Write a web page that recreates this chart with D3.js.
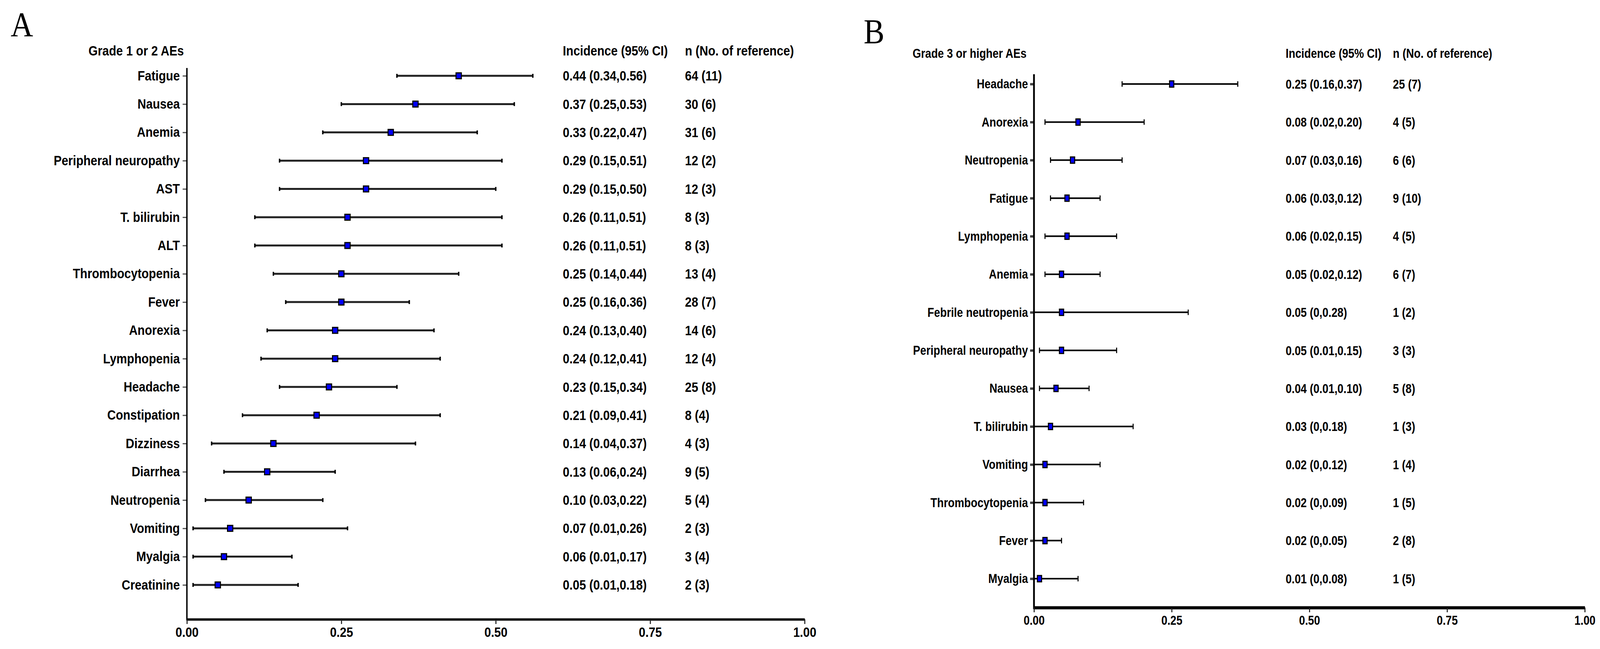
<!DOCTYPE html>
<html>
<head>
<meta charset="utf-8">
<script src="https://cdn.jsdelivr.net/npm/d3@7"></script>
<style>
html,body{margin:0;padding:0;background:#fff;overflow:hidden;width:100%;height:100%;}
svg{display:block;width:100vw;height:100vh;}
</style>
</head>
<body>
<svg id="chart" viewBox="0 0 4520 1661" preserveAspectRatio="none"></svg>
<script>
// ---------- Panel A data: Grade 1 or 2 AEs ----------
const catsA = ["Fatigue","Nausea","Anemia","Peripheral neuropathy","AST","T. bilirubin","ALT","Thrombocytopenia","Fever","Anorexia","Lymphopenia","Headache","Constipation","Dizziness","Diarrhea","Neutropenia","Vomiting","Myalgia","Creatinine"];
const estA = [0.44,0.37,0.33,0.29,0.29,0.26,0.26,0.25,0.25,0.24,0.24,0.23,0.21,0.14,0.13,0.10,0.07,0.06,0.05];
const loA  = [0.34,0.25,0.22,0.15,0.15,0.11,0.11,0.14,0.16,0.13,0.12,0.15,0.09,0.04,0.06,0.03,0.01,0.01,0.01];
const hiA  = [0.56,0.53,0.47,0.51,0.50,0.51,0.51,0.44,0.36,0.40,0.41,0.34,0.41,0.37,0.24,0.22,0.26,0.17,0.18];
const ciTextA = ["0.44 (0.34,0.56)","0.37 (0.25,0.53)","0.33 (0.22,0.47)","0.29 (0.15,0.51)","0.29 (0.15,0.50)","0.26 (0.11,0.51)","0.26 (0.11,0.51)","0.25 (0.14,0.44)","0.25 (0.16,0.36)","0.24 (0.13,0.40)","0.24 (0.12,0.41)","0.23 (0.15,0.34)","0.21 (0.09,0.41)","0.14 (0.04,0.37)","0.13 (0.06,0.24)","0.10 (0.03,0.22)","0.07 (0.01,0.26)","0.06 (0.01,0.17)","0.05 (0.01,0.18)"];
const nTextA = ["64 (11)","30 (6)","31 (6)","12 (2)","12 (3)","8 (3)","8 (3)","13 (4)","28 (7)","14 (6)","12 (4)","25 (8)","8 (4)","4 (3)","9 (5)","5 (4)","2 (3)","3 (4)","2 (3)"];

// ---------- Panel B data: Grade 3 or higher AEs ----------
const catsB = ["Headache","Anorexia","Neutropenia","Fatigue","Lymphopenia","Anemia","Febrile neutropenia","Peripheral neuropathy","Nausea","T. bilirubin","Vomiting","Thrombocytopenia","Fever","Myalgia"];
const estB = [0.25,0.08,0.07,0.06,0.06,0.05,0.05,0.05,0.04,0.03,0.02,0.02,0.02,0.01];
const loB  = [0.16,0.02,0.03,0.03,0.02,0.02,0.00,0.01,0.01,0.00,0.00,0.00,0.00,0.00];
const hiB  = [0.37,0.20,0.16,0.12,0.15,0.12,0.28,0.15,0.10,0.18,0.12,0.09,0.05,0.08];
const ciTextB = ["0.25 (0.16,0.37)","0.08 (0.02,0.20)","0.07 (0.03,0.16)","0.06 (0.03,0.12)","0.06 (0.02,0.15)","0.05 (0.02,0.12)","0.05 (0,0.28)","0.05 (0.01,0.15)","0.04 (0.01,0.10)","0.03 (0,0.18)","0.02 (0,0.12)","0.02 (0,0.09)","0.02 (0,0.05)","0.01 (0,0.08)"];
const nTextB = ["25 (7)","4 (5)","6 (6)","9 (10)","4 (5)","6 (7)","1 (2)","3 (3)","5 (8)","1 (3)","1 (4)","1 (5)","2 (8)","1 (5)"];

const xTicks = [0, 0.25, 0.5, 0.75, 1];
const headers = {A:["Grade 1 or 2 AEs","Incidence (95% CI)","n (No. of reference)"],
                 B:["Grade 3 or higher AEs","Incidence (95% CI)","n (No. of reference)"]};

const svg = d3.select("#chart");
const FONT = "'Liberation Sans', Arial, Helvetica, sans-serif";

function squeeze(sel, k){
  sel.each(function(){
    const len = this.getComputedTextLength();
    d3.select(this).attr("textLength", len*k).attr("lengthAdjust","spacingAndGlyphs");
  });
}

function panel(cfg){
  const rows = cfg.cats.map((c,i)=>({cat:c, est:cfg.est[i], lo:cfg.lo[i], hi:cfg.hi[i], ci:cfg.ci[i], n:cfg.n[i]}));
  const x = d3.scaleLinear().domain([0,1]).range([cfg.x0, cfg.x1]);
  const y = d3.scalePoint().domain(cfg.cats).range([cfg.yTop, cfg.yBot]);
  const g = svg.append("g");

  // y axis (labels + ticks)
  const ya = g.append("g").attr("transform",`translate(${cfg.x0},0)`)
    .call(d3.axisLeft(y).tickSize(cfg.yTickLen).tickPadding(cfg.yTickPad));
  ya.select(".domain").remove();
  ya.selectAll(".tick line").attr("stroke", cfg.yTickColor).attr("stroke-width", cfg.yTickW);
  ya.selectAll(".tick text").attr("font-family",FONT).attr("font-weight","bold")
    .attr("font-size",cfg.fs).attr("fill","#000");
  squeeze(ya.selectAll(".tick text"), cfg.sq);

  // vertical axis line
  g.append("line").attr("x1",cfg.x0).attr("x2",cfg.x0).attr("y1",cfg.axTop).attr("y2",cfg.axBot+cfg.xDomW/2)
    .attr("stroke","#000").attr("stroke-width",cfg.yDomW);

  // x axis
  const xa = g.append("g").attr("transform",`translate(0,${cfg.axBot})`)
    .call(d3.axisBottom(x).tickValues(xTicks).tickFormat(d3.format(".2f")).tickSize(cfg.xTickLen).tickSizeOuter(0).tickPadding(cfg.xTickPad));
  xa.select(".domain").attr("stroke","#000").attr("stroke-width",cfg.xDomW);
  xa.selectAll(".tick line").attr("stroke","#222").attr("stroke-width",cfg.xTickW);
  xa.selectAll(".tick text").attr("font-family",FONT).attr("font-weight","bold")
    .attr("font-size",cfg.fs).attr("fill","#000");
  squeeze(xa.selectAll(".tick text"), cfg.sq);

  // CI lines
  const eg = g.append("g");
  eg.selectAll("line.ci").data(rows).join("line").attr("class","ci")
    .attr("x1",d=>x(d.lo)).attr("x2",d=>x(d.hi)).attr("y1",d=>y(d.cat)).attr("y2",d=>y(d.cat))
    .attr("stroke",cfg.lineColor).attr("stroke-width",cfg.lineW);
  // caps
  const caps = rows.flatMap(d=>[{cat:d.cat,v:d.lo},{cat:d.cat,v:d.hi}]);
  eg.selectAll("line.cap").data(caps).join("line").attr("class","cap")
    .attr("x1",d=>x(d.v)).attr("x2",d=>x(d.v))
    .attr("y1",d=>y(d.cat)-cfg.capH/2).attr("y2",d=>y(d.cat)+cfg.capH/2)
    .attr("stroke","#000").attr("stroke-width",cfg.capW);
  // markers
  eg.selectAll("rect.pt").data(rows).join("rect").attr("class","pt")
    .attr("x",d=>x(d.est)-cfg.mW/2).attr("y",d=>y(d.cat)-cfg.mH/2)
    .attr("width",cfg.mW).attr("height",cfg.mH)
    .attr("fill","#0000ff").attr("stroke","#000").attr("stroke-width",cfg.mSW);

  // text columns
  const tg = g.append("g").attr("font-family",FONT).attr("font-weight","bold").attr("font-size",cfg.fs).attr("fill","#000");
  const ciT = tg.selectAll("text.ci").data(rows).join("text").attr("class","ci")
    .attr("x",cfg.colCI).attr("y",d=>y(d.cat)).attr("dy","0.35em").text(d=>d.ci);
  const nT = tg.selectAll("text.n").data(rows).join("text").attr("class","n")
    .attr("x",cfg.colN).attr("y",d=>y(d.cat)).attr("dy","0.35em").text(d=>d.n);
  const h = tg.selectAll("text.h").data([
      {t:cfg.headers[0],x:cfg.titleX},{t:cfg.headers[1],x:cfg.colCI},{t:cfg.headers[2],x:cfg.colN}])
    .join("text").attr("class","h").attr("x",d=>d.x).attr("y",cfg.headY).text(d=>d.t);
  squeeze(ciT, cfg.sq); squeeze(nT, cfg.sq); squeeze(h, cfg.sq);

  // panel letter
  svg.append("text").attr("x",cfg.letterX).attr("y",cfg.letterY)
    .attr("font-family","'Liberation Serif', 'Times New Roman', serif").attr("font-size",cfg.letterFS)
    .attr("fill","#000").text(cfg.letter);
}

panel({cats:catsA, est:estA, lo:loA, hi:hiA, ci:ciTextA, n:nTextA, headers:headers.A,
  x0:528, x1:2273, yTop:194, yBot:1497, axTop:174, axBot:1585,
  fs:35, sq:0.96, yTickLen:12, yTickPad:8, yTickColor:"#555", yTickW:3, yDomW:4,
  xDomW:6, xTickLen:12, xTickW:3, xTickPad:8,
  lineColor:"#222", lineW:5, capH:10, capW:4, mW:15, mH:15, mSW:3,
  colCI:1590, colN:1935, titleX:250, headY:142,
  letter:"A", letterX:30, letterY:92, letterFS:88});

panel({cats:catsB, est:estB, lo:loB, hi:hiB, ci:ciTextB, n:nTextB, headers:headers.B,
  x0:2921, x1:4477, yTop:215, yBot:1481, axTop:190, axBot:1555,
  fs:34, sq:0.9, yTickLen:11, yTickPad:6, yTickColor:"#444", yTickW:6, yDomW:5,
  xDomW:8, xTickLen:12, xTickW:3, xTickPad:8,
  lineColor:"#000", lineW:4, capH:14, capW:3, mW:12, mH:16, mSW:3,
  colCI:3632, colN:3935, titleX:2578, headY:148,
  letter:"B", letterX:2440, letterY:110, letterFS:88});
</script>
</body>
</html>
